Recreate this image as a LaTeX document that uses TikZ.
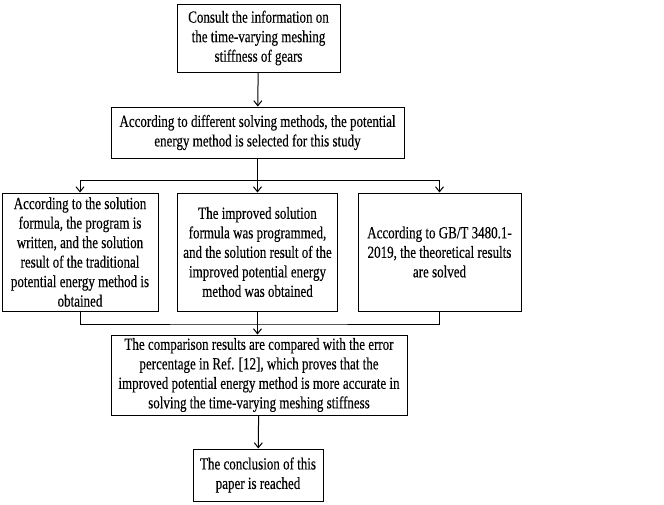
\documentclass[tikz,border=0pt]{standalone}
\usepackage{fontspec}
\setmainfont{Liberation Serif}[FakeStretch=0.765, FakeBold=0.3]
\usetikzlibrary{arrows.meta}

\tikzset{
  box/.style={draw, line width=1pt, align=center, inner sep=2pt,
    font=\fontsize{17}{19.5}\selectfont},
  flow/.style={line width=1pt, -{Straight Barb[length=5pt,width=8pt]}},
  link/.style={line width=1pt}
}

\begin{document}
\begin{tikzpicture}[x=1pt, y=-1pt]
				\useasboundingbox (0,0) rectangle (664,504);
				\node[box, minimum width=163pt, minimum height=68pt] (consult) at (258.5,38)
					{Consult the information on\\the time-varying meshing\\stiffness of gears};
				\node[box, minimum width=293pt, minimum height=51pt] (select) at (257.5,132.5)
					{According to different solving methods, the potential\\energy method is selected for this study};
				\node[box, minimum width=156pt, minimum height=118pt] (trad) at (80,252)
					{According to the solution\\formula, the program is\\written, and the solution\\result of the traditional\\potential energy method is\\obtained};
				\node[box, minimum width=160pt, minimum height=118pt] (impr) at (257.5,252)
					{The improved solution\\formula was programmed,\\and the solution result of the\\improved potential energy\\method was obtained};
				\node[box, minimum width=163pt, minimum height=118pt] (std) at (439.5,252)
					{According to GB/T 3480.1-\\2019, the theoretical results\\are solved};
				\node[box, minimum width=296pt, minimum height=80pt] (compare) at (259,375)
					{The comparison results are compared with the error\\percentage in Ref. [12], which proves that the\\improved potential energy method is more accurate in\\solving the time-varying meshing stiffness};
				\node[box, minimum width=130pt, minimum height=52pt] (concl) at (258,475)
					{The conclusion of this\\paper is reached};
				\coordinate (split) at (select.south |- 0,180);
				\coordinate (join) at (impr.south |- 0,324);
				\draw[flow] (consult) -- (select);
				\draw[link] (select) -- (split);
				\draw[flow] (split) -| (trad.north);
				\draw[flow] (split) -- (impr.north -| split);
				\draw[flow] (split) -| (std.north);
				\draw[link] (trad.south) |- (join) -| (std.south);
				\draw[flow] (impr.south) -- (compare.north -| impr.south);
				\draw[flow] (compare) -- (concl);
			\end{tikzpicture}
\end{document}
